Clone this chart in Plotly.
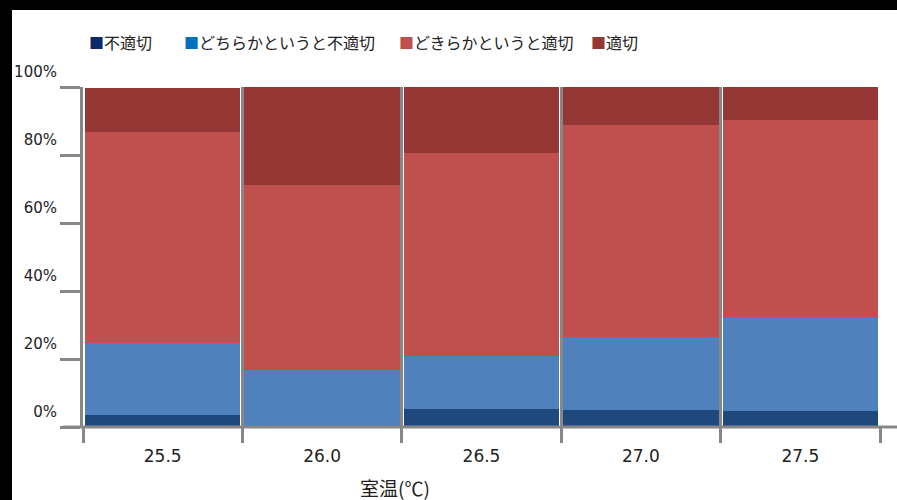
import plotly.graph_objects as go

categories = ["25.5", "26.0", "26.5", "27.0", "27.5"]
series_names = ["不適切", "どちらかというと不適切", "どきらかというと適切", "適切"]
futekisetsu = [3.5, 0.0, 5.2, 5.1, 4.7]
dochiraka_futekisetsu = [21.2, 16.8, 15.7, 21.4, 27.7]
dochiraka_tekisetsu = [62.1, 54.4, 59.8, 62.4, 57.8]
tekisetsu = [12.8, 28.8, 19.3, 11.1, 9.8]
y_ticks = [0, 20, 40, 60, 80, 100]
y_tick_labels = ["0%", "20%", "40%", "60%", "80%", "100%"]

series_values = [futekisetsu, dochiraka_futekisetsu, dochiraka_tekisetsu, tekisetsu]
bar_colors = ["#1F497D", "#4F81BD", "#C0504D", "#953735"]
legend_colors = ["#0B2A6B", "#0070C0", "#C0504D", "#953735"]
legend_px = [87, 182, 397, 589]

W, H = 897, 500
ML, MR, MT, MB = 83, 17, 87, 73
PW, PH = W - ML - MR, H - MT - MB
GRAY = "#878787"


def px_x(px):
    return (px - ML) / PW


def px_y(py):
    return (H - MB - py) / PH


fig = go.Figure()
for name, vals, col in zip(series_names, series_values, bar_colors):
    fig.add_trace(go.Bar(x=categories, y=vals, name=name, marker=dict(color=col, line=dict(width=0)),
                         showlegend=False))

annotations = []
for name, col, lx in zip(series_names, legend_colors, legend_px):
    annotations.append(dict(
        text=f"<span style='color:{col};font-size:15px'>■</span>{name}",
        x=px_x(lx), y=px_y(42), xref="paper", yref="paper", xanchor="left", yanchor="middle",
        showarrow=False, font=dict(family="Noto Sans CJK JP", size=16, color="#222222")))
annotations.append(dict(
    text="室温(℃)", x=px_x(395), y=px_y(487), xref="paper", yref="paper",
    xanchor="center", yanchor="middle", showarrow=False,
    font=dict(family="Noto Sans CJK JP", size=19, color="#222222")))

shapes = [
    dict(type="rect", xref="paper", yref="paper", x0=px_x(0), x1=px_x(12), y0=px_y(500), y1=px_y(0),
         fillcolor="black", line=dict(width=0), layer="above"),
    dict(type="rect", xref="paper", yref="paper", x0=px_x(0), x1=px_x(897), y0=px_y(10), y1=px_y(0),
         fillcolor="black", line=dict(width=0), layer="above"),
    dict(type="line", xref="paper", yref="paper", x0=px_x(63), x1=px_x(897), y0=0, y1=0,
         line=dict(color=GRAY, width=3), layer="above"),
]

fig.update_layout(
    width=W, height=H,
    margin=dict(l=ML, r=MR, t=MT, b=MB, pad=0),
    paper_bgcolor="white", plot_bgcolor="white",
    barmode="stack", bargap=0.025,
    showlegend=False,
    annotations=annotations, shapes=shapes,
    xaxis=dict(type="category", range=[-0.5, 4.5], tickson="boundaries",
               showgrid=True, gridcolor=GRAY, gridwidth=3,
               ticks="outside", ticklen=15, tickwidth=3, tickcolor=GRAY,
               showline=False, zeroline=False, ticklabelstandoff=17,
               tickfont=dict(family="DejaVu Sans", size=17, color="#222222")),
    yaxis=dict(range=[0, 100], tickvals=y_ticks, ticktext=y_tick_labels,
               showgrid=False, zeroline=False,
               showline=True, linecolor=GRAY, linewidth=3,
               ticks="outside", ticklen=20, tickwidth=3, tickcolor=GRAY,
               ticklabelshift=-15,
               tickfont=dict(family="DejaVu Sans", size=15, color="#222222")),
)

fig.write_html("out.html")
